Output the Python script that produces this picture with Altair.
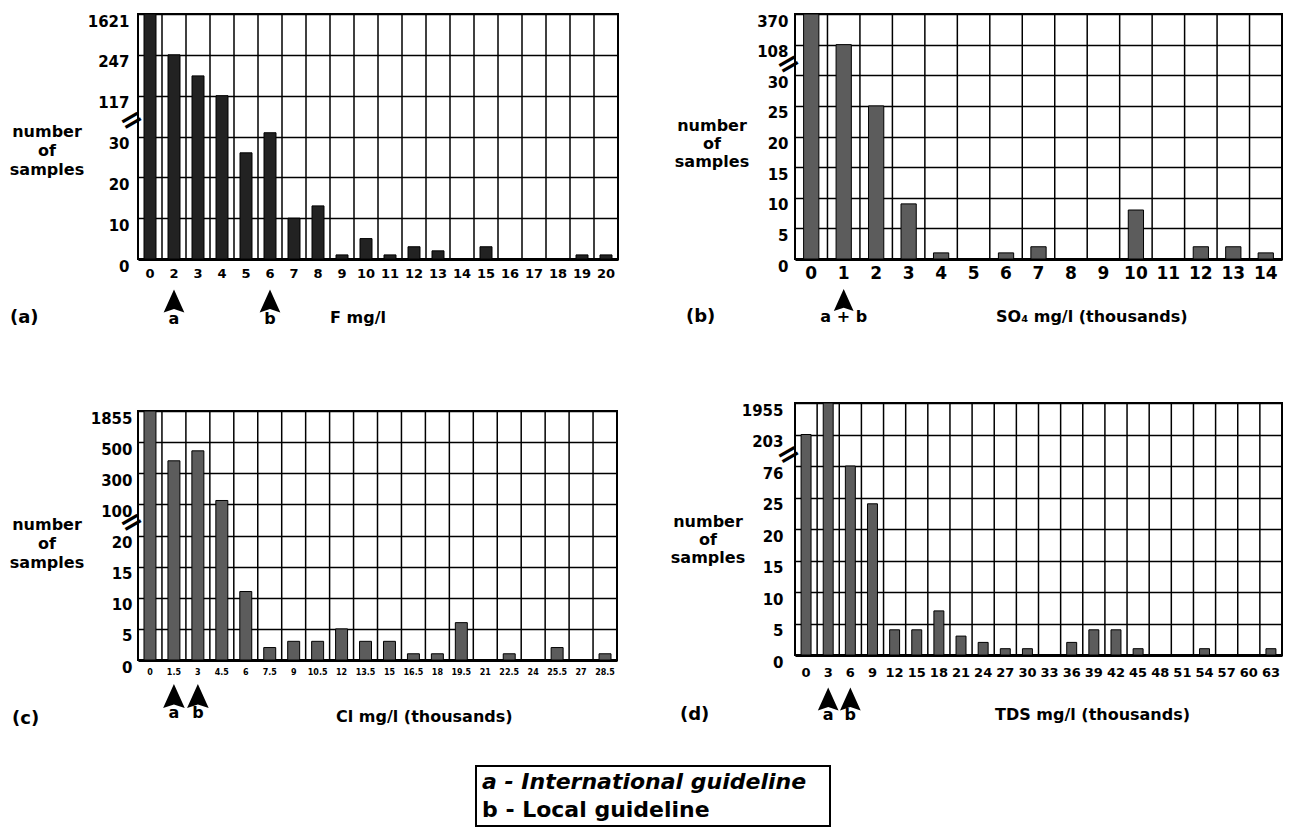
import altair as alt
import pandas as pd

FONT = "DejaVu Sans"
ARROW = "M0,-1L0.9,1L0,0.7L-0.9,1Z"

# (a) Fluoride
f_bins = ["0", "2", "3", "4", "5", "6", "7", "8", "9", "10", "11", "12", "13", "14", "15", "16", "17", "18", "19", "20"]
f_counts = [1621, 247, 180, 117, 26, 38, 10, 13, 1, 5, 1, 3, 2, 0, 3, 0, 0, 0, 1, 1]
f_ticks = [0, 10, 20, 30, 117, 247, 1621]
f_break = [63]
f_arrow_bins = ["2", "6"]
f_arrow_labels = ["a", "b"]

# (b) Sulphate
s_bins = ["0", "1", "2", "3", "4", "5", "6", "7", "8", "9", "10", "11", "12", "13", "14"]
s_counts = [370, 108, 25, 9, 1, 0, 1, 2, 0, 0, 8, 0, 2, 2, 1]
s_ticks = [0, 5, 10, 15, 20, 25, 30, 108, 370]
s_break = [57]
s_arrow_bins = ["1"]
s_arrow_labels = ["a + b"]

# (c) Chloride
c_bins = ["0", "1.5", "3", "4.5", "6", "7.5", "9", "10.5", "12", "13.5", "15", "16.5", "18", "19.5",
          "21", "22.5", "24", "25.5", "27", "28.5"]
c_counts = [1855, 380, 444, 125, 11, 2, 3, 3, 5, 3, 3, 1, 1, 6, 0, 1, 0, 2, 0, 1]
c_ticks = [0, 5, 10, 15, 20, 100, 300, 500, 1855]
c_break = [52]
c_arrow_bins = ["1.5", "3"]
c_arrow_labels = ["a", "b"]

# (d) TDS
d_bins = ["0", "3", "6", "9", "12", "15", "18", "21", "24", "27", "30", "33", "36", "39", "42", "45",
          "48", "51", "54", "57", "60", "63"]
d_counts = [203, 1955, 76, 24, 4, 4, 7, 3, 2, 1, 1, 0, 2, 4, 4, 1, 0, 0, 1, 0, 0, 1]
d_ticks = [0, 5, 10, 15, 20, 25, 76, 203, 1955]
d_break = [120]
d_arrow_bins = ["3", "6"]
d_arrow_labels = ["a", "b"]

legend_lines = ["a - International guideline", "b - Local guideline"]


def panel(bins, counts, ticks, brk, arrow_bins, arrow_labels, plabel, xtitle, st):
    w, h = st["w"], st["h"]
    n = len(ticks)
    xscale = alt.Scale(domain=bins, paddingInner=0, paddingOuter=0)
    xaxis = alt.Axis(title=None, labelAngle=0, labelFontSize=st["xfs"], labelPadding=st["xpad"],
                     ticks=False, grid=False, domain=True, domainColor="black", domainWidth=3,
                     labelOverlap=False, labelFont=FONT, labelFontWeight="bold", labelColor="black")
    yscale = alt.Scale(domain=ticks, range=[h * (1 - i / (n - 1)) for i in range(n)], nice=False, zero=False)
    yaxis = alt.Axis(values=ticks, format="d", grid=True, gridColor="black", gridWidth=1.5, gridOpacity=1,
                     domain=False, ticks=False, labelBaseline="top", labelPadding=st["ypad"],
                     labelFontSize=15, labelFont=FONT, labelFontWeight="bold", labelColor="black",
                     labelOverlap=False, title=None)

    def X(**kw):
        return alt.X("bin:N", scale=xscale, axis=xaxis, **kw)

    def Y():
        return alt.Y("count:Q", scale=yscale, axis=yaxis)

    df = pd.DataFrame({"bin": bins, "count": counts})
    rules = alt.Chart(df).mark_rule(color="black", strokeWidth=1.5).encode(
        x=X(bandPosition=0), y=alt.value(0), y2=alt.value(h))
    bars = alt.Chart(df).mark_bar(width=alt.RelativeBandSize(st["bw"]), fill=st["fill"], stroke="black",
                                  strokeWidth=1).encode(x=X(), y=Y())
    brk_layer = alt.Chart(pd.DataFrame({"count": brk})).mark_text(
        text="=", angle=330, fontSize=28, font=FONT, fontWeight="bold", color="black"
    ).encode(x=alt.value(-6), y=Y())
    adf = pd.DataFrame({"bin": arrow_bins, "lab": arrow_labels})
    arrows = alt.Chart(adf).mark_point(shape=ARROW, filled=True, color="black", opacity=1,
                                       size=st["asize"]).encode(x=X(), y=alt.value(h + st["ady"]))
    letters = alt.Chart(adf).mark_text(font=FONT, fontSize=16, fontWeight="bold", color="black",
                                       baseline="middle").encode(
        x=X(), y=alt.value(h + st["ldy"]), text="lab:N")
    ytitle = alt.Chart(pd.DataFrame({"t": ["number\nof\nsamples"]})).mark_text(
        font=FONT, fontSize=16, fontWeight="bold", color="black", align="center", baseline="top",
        lineBreak="\n", lineHeight=st["tlh"]
    ).encode(x=alt.value(st["tcx"]), y=alt.value(st["ty"]), text="t:N")
    plab = alt.Chart(pd.DataFrame({"t": [plabel]})).mark_text(
        font=FONT, fontSize=18, fontWeight="bold", color="black", align="left", baseline="middle"
    ).encode(x=alt.value(st["pdx"]), y=alt.value(h + st["pdy"]), text="t:N")
    xt = alt.Chart(pd.DataFrame({"t": [xtitle]})).mark_text(
        font=FONT, fontSize=16, fontWeight="bold", color="black", align="left", baseline="middle"
    ).encode(x=alt.value(st["xtx"]), y=alt.value(h + st["xty"]), text="t:N")
    return alt.layer(rules, bars, brk_layer, arrows, letters, ytitle, plab, xt).properties(width=w, height=h)


pa = panel(f_bins, f_counts, f_ticks, f_break, f_arrow_bins, f_arrow_labels, "(a)", "F mg/l",
           dict(w=480, h=245, xfs=13, xpad=8, ypad=9, tcx=-91, ty=110, tlh=19, bw=0.5, fill="#222222",
                asize=529, ady=42, ldy=60, pdx=-128, pdy=59, xtx=192, xty=59))
pb = panel(s_bins, s_counts, s_ticks, s_break, s_arrow_bins, s_arrow_labels, "(b)", "SO\u2084  mg/l (thousands)",
           dict(w=487, h=245, xfs=17, xpad=6, ypad=7, tcx=-83, ty=104, tlh=18, bw=0.47, fill="#5c5c5c",
                asize=484, ady=41, ldy=58, pdx=-109, pdy=58, xtx=201, xty=58))
pc = panel(c_bins, c_counts, c_ticks, c_break, c_arrow_bins, c_arrow_labels, "(c)", "Cl mg/l (thousands)",
           dict(w=479, h=249, xfs=8, xpad=8, ypad=6, tcx=-91, ty=106, tlh=19, bw=0.5, fill="#5c5c5c",
                asize=576, ady=36, ldy=53, pdx=-126, pdy=59, xtx=198, xty=57))
pd_ = panel(d_bins, d_counts, d_ticks, d_break, d_arrow_bins, d_arrow_labels, "(d)", "TDS mg/l (thousands)",
            dict(w=487, h=252, xfs=13, xpad=11, ypad=12, tcx=-87, ty=111, tlh=18, bw=0.45, fill="#5c5c5c",
                 asize=529, ady=44, ldy=60, pdx=-115, pdy=60, xtx=200, xty=60))

col1 = alt.vconcat(pa, pc, spacing=81)
col2 = alt.vconcat(pb, pd_, spacing=74)
top = alt.hconcat(col1, col2, spacing=50)

box = alt.Chart(pd.DataFrame({"k": [0]})).mark_rect(fill="white", stroke="black", strokeWidth=2).encode(
    x=alt.value(338), x2=alt.value(692), y=alt.value(0), y2=alt.value(60))
line1 = alt.Chart(pd.DataFrame({"t": [legend_lines[0]]})).mark_text(
    font=FONT, fontSize=22, fontWeight="bold", fontStyle="italic", color="black", align="left", baseline="middle"
).encode(x=alt.value(344), y=alt.value(16), text="t:N")
line2 = alt.Chart(pd.DataFrame({"t": [legend_lines[1]]})).mark_text(
    font=FONT, fontSize=22, fontWeight="bold", color="black", align="left", baseline="middle"
).encode(x=alt.value(344), y=alt.value(44), text="t:N")
legend = alt.layer(box, line1, line2).properties(width=720, height=60,
                                                 view=alt.ViewBackground(strokeOpacity=0))

chart = alt.vconcat(top, legend, spacing=36).properties(
    padding={"left": 0, "top": 4, "right": 2, "bottom": 2}
).configure_view(stroke="black", strokeWidth=2)

chart.save("out.html", embed_options={"renderer": "svg", "actions": False})
